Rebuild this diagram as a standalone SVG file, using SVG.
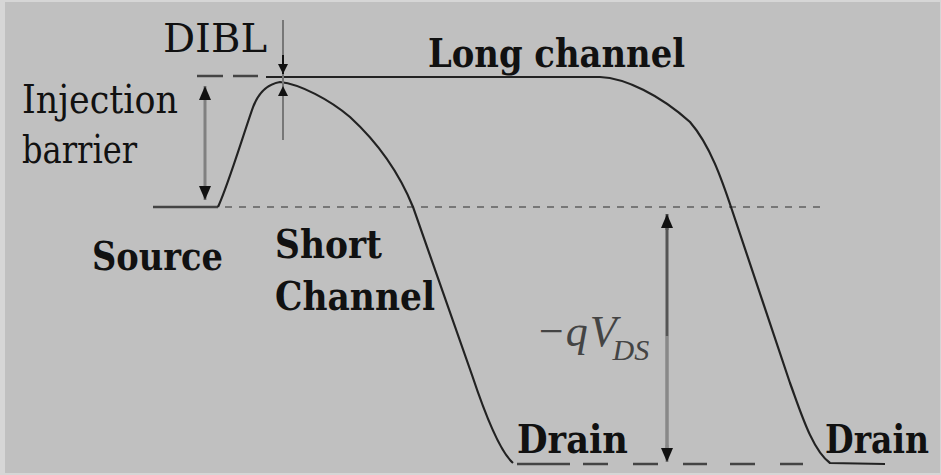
<svg xmlns="http://www.w3.org/2000/svg" width="941" height="475" viewBox="0 0 941 475">
<defs>
<style>
text{font-family:'DejaVu Serif','Liberation Serif',serif;fill:#111;font-size:40px}
.b{font-weight:bold}
.it{font-family:'Liberation Serif','DejaVu Serif',serif;font-style:italic;fill:#444;font-size:44px}
.curve{fill:none;stroke:#222;stroke-width:2.2}
.lvl{fill:none;stroke:#444;stroke-width:2.5}
.dash{fill:none;stroke:#777;stroke-width:2;stroke-dasharray:7 7}
.dim{fill:none;stroke:#808080;stroke-width:3}
.ah{fill:#111}
</style>
<marker id="arr" viewBox="0 0 10 10" refX="10" refY="5" markerWidth="10" markerHeight="10" markerUnits="userSpaceOnUse" orient="auto-start-reverse">
<path d="M0,0 L10,5 L0,10 Z" class="ah"/>
</marker>
<marker id="arrL" viewBox="0 0 14 12" refX="14" refY="6" markerWidth="14" markerHeight="12" markerUnits="userSpaceOnUse" orient="auto-start-reverse">
<path d="M0,0 L14,6 L0,12 Z" class="ah"/>
</marker>
</defs>
<rect x="0" y="0" width="941" height="475" fill="#d6d6d6"/>
<rect x="5" y="2" width="935" height="471" fill="#c0c0c0"/>

<g id="connectors">
<path class="lvl" d="M153,207 L218,207"/>
<path class="dash" d="M225,207 L825,207"/>
<path class="lvl" d="M197,76 L223,76 M233,76 L258,76"/>
<path class="lvl" d="M517,464 L570,464 M583,464 L608,464 M633,464 L658,464 M683,464 L707,464 M730,464 L755,464 M780,464 L803,464"/>
<path class="curve" d="M266,77 L600,77 C625,78 660,95 690,122 C710,145 722,180 732,210 L790,383 C800,410 812,450 830,463 L885,464"/>
<path class="curve" d="M218,207 C228,185 240,145 252,110 C258,92 268,84 280,82 C300,84 330,100 350,117 C375,140 398,170 413,207 L472,375 C482,405 498,450 513,463"/>
<path class="dim" d="M205,86 L205,200" marker-start="url(#arrL)" marker-end="url(#arrL)"/>
<path fill="none" stroke="#777" stroke-width="2" d="M283,20 L283,140"/>
<path fill="none" stroke="#111" stroke-width="2" d="M283,55 L283,74" marker-end="url(#arr)"/>
<path fill="none" stroke="#777" stroke-width="2" d="M283,102 L283,86" marker-end="url(#arr)"/>
<path fill="none" stroke="#555" stroke-width="3" d="M667,218 L667,336"/>
<path fill="none" stroke="#888" stroke-width="3.5" d="M667,336 L667,455"/>
<path fill="none" stroke="#555" stroke-width="3" d="M667,230 L667,214" marker-end="url(#arrL)"/>
<path fill="none" stroke="#888" stroke-width="3" d="M667,445 L667,462" marker-end="url(#arrL)"/>
</g>

<g id="dibl"><text x="163" y="52" textLength="104" lengthAdjust="spacingAndGlyphs">DIBL</text></g>
<g id="long-channel"><text class="b" x="428" y="67" textLength="257" lengthAdjust="spacingAndGlyphs">Long channel</text></g>
<g id="injection-barrier"><text x="22" y="113" textLength="156" lengthAdjust="spacingAndGlyphs">Injection</text><text x="22" y="163" textLength="115" lengthAdjust="spacingAndGlyphs">barrier</text></g>
<g id="source"><text class="b" x="92" y="270" textLength="131" lengthAdjust="spacingAndGlyphs">Source</text></g>
<g id="short-channel"><text class="b" x="275" y="258" textLength="107" lengthAdjust="spacingAndGlyphs">Short</text><text class="b" x="275" y="310" textLength="160" lengthAdjust="spacingAndGlyphs">Channel</text></g>
<g id="drain-short"><text class="b" x="517" y="453" textLength="111" lengthAdjust="spacingAndGlyphs">Drain</text></g>
<g id="drain-long"><text class="b" x="825" y="453" textLength="104" lengthAdjust="spacingAndGlyphs">Drain</text></g>
<g id="qvds"><text class="it" x="536" y="346">−<tspan dx="0">q</tspan><tspan dx="2">V</tspan><tspan dx="-4" dy="14" style="font-size:30px">DS</tspan></text></g>
</svg>
